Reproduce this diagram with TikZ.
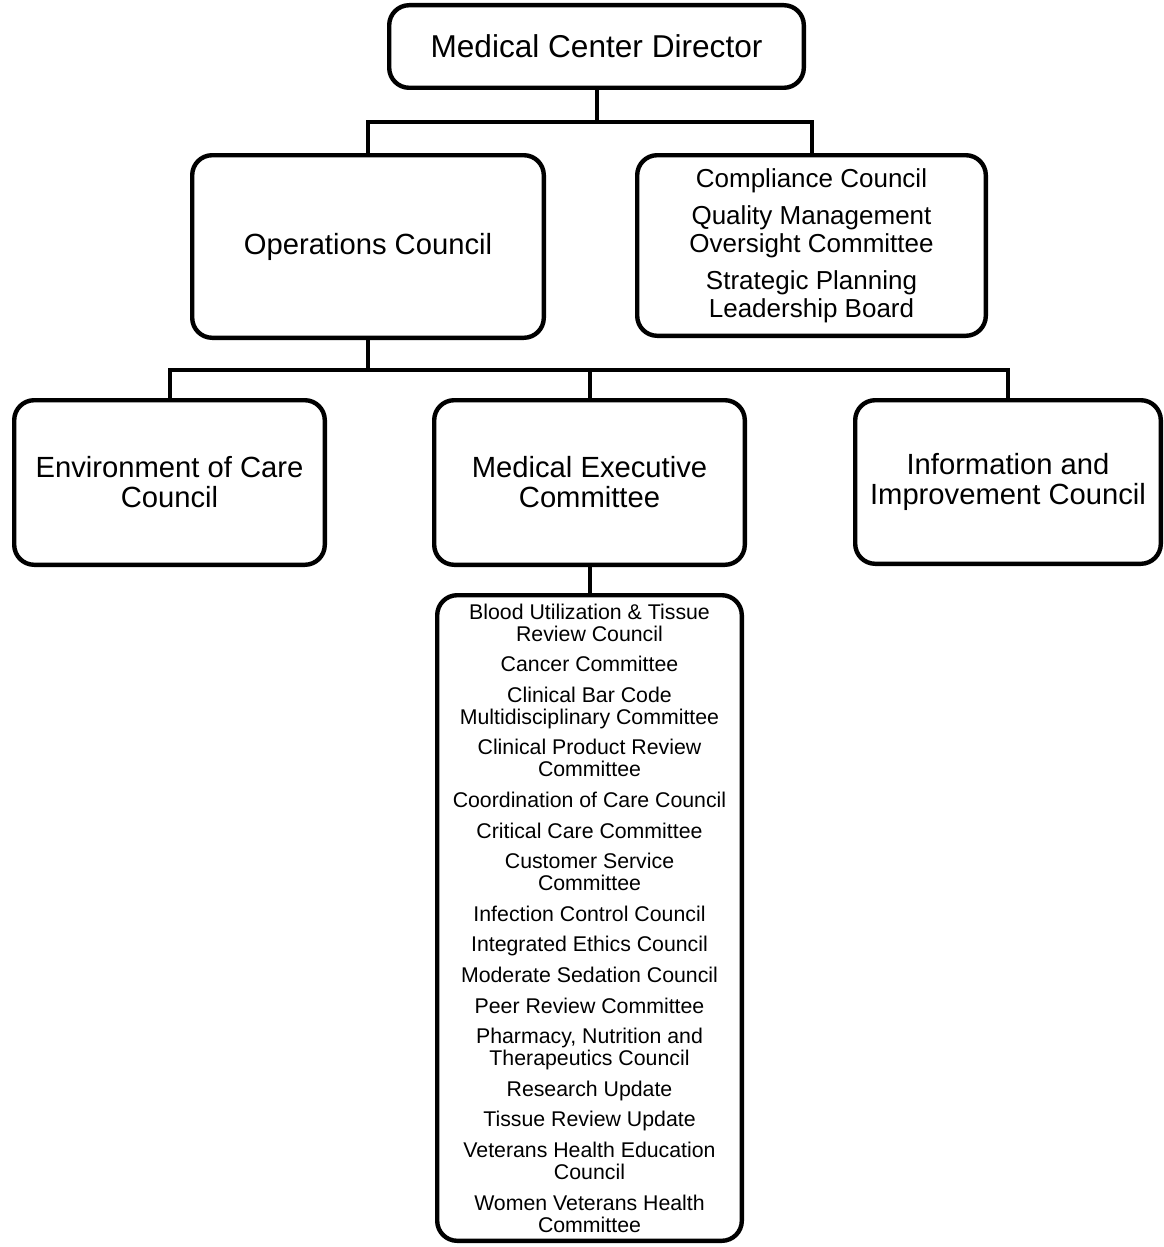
\documentclass[tikz,border=0pt]{standalone}
\usepackage{fontspec}
\setmainfont{Liberation Sans}
\usepackage{tikz}
\usetikzlibrary{positioning}

\begin{document}
\begin{tikzpicture}[x=0.5pt, y=-0.5pt,
    unit/.style={rectangle, draw=black, rounded corners=10pt, line width=2.2pt,
    align=center, text=black, inner sep=0pt},
    council/.style={unit, font=\fontsize{14.6}{15}\selectfont},
    link/.style={draw=black, line width=2pt}]
    \useasboundingbox (0,0) rectangle (1163,1247);

    \node (director) [unit, minimum width=207.3pt, minimum height=41.3pt,
        font=\fontsize{15.8}{18}\selectfont] at (596.5,46.5) {Medical Center Director};

    \node (operations) [council, minimum width=175.8pt, minimum height=91.3pt] at (368,246.5) {Operations Council};

    \node (compliance) [unit, minimum width=174.3pt, minimum height=90.3pt,
        font=\fontsize{13}{14}\selectfont] at (811.5,245.5)
    {
        Compliance Council \\[4.5pt]
        Quality Management \\ Oversight Committee \\[4.5pt]
        Strategic Planning \\ Leadership Board
    };

    \node (environment) [council, minimum width=155.3pt, minimum height=82.3pt] at (169.5,482.5) {Environment of Care \\ Council};
    \node (mec) [council, minimum width=155.3pt, minimum height=82.3pt] at (589.5,482.5) {Medical Executive \\ Committee};
    \node (information) [council, minimum width=152.8pt, minimum height=81.8pt] at (1008,482) {Information and \\ Improvement Council};

    \node (committees) [unit, below=13pt of mec, minimum width=152.3pt, minimum height=322.8pt,
        font=\fontsize{10.65}{11}\selectfont]
    {
        Blood Utilization \& Tissue \\ Review Council \\[4.3pt]
        Cancer Committee \\[4.3pt]
        Clinical Bar Code \\ Multidisciplinary Committee \\[4.3pt]
        Clinical Product Review \\ Committee \\[4.3pt]
        Coordination of Care Council \\[4.3pt]
        Critical Care Committee \\[4.3pt]
        Customer Service \\ Committee \\[4.3pt]
        Infection Control Council \\[4.3pt]
        Integrated Ethics Council \\[4.3pt]
        Moderate Sedation Council \\[4.3pt]
        Peer Review Committee \\[4.3pt]
        Pharmacy, Nutrition and \\ Therapeutics Council \\[4.3pt]
        Research Update \\[4.3pt]
        Tissue Review Update \\[4.3pt]
        Veterans Health Education \\ Council \\[4.3pt]
        Women Veterans Health \\ Committee
    };

    % buses
    \coordinate (topbus) at (596.5,122);
    \coordinate (midbus) at (368,370);

    \draw [link] (director) -- (topbus);
    \draw [link] (operations.north) |- (topbus) -| (compliance.north);
    \draw [link] (operations) -- (midbus);
    \draw [link] (environment.north) |- (midbus) -| (information.north);
    \draw [link] (mec.north) -- (mec.north |- midbus);
    \draw [link] (mec) -- (committees);
\end{tikzpicture}
\end{document}
